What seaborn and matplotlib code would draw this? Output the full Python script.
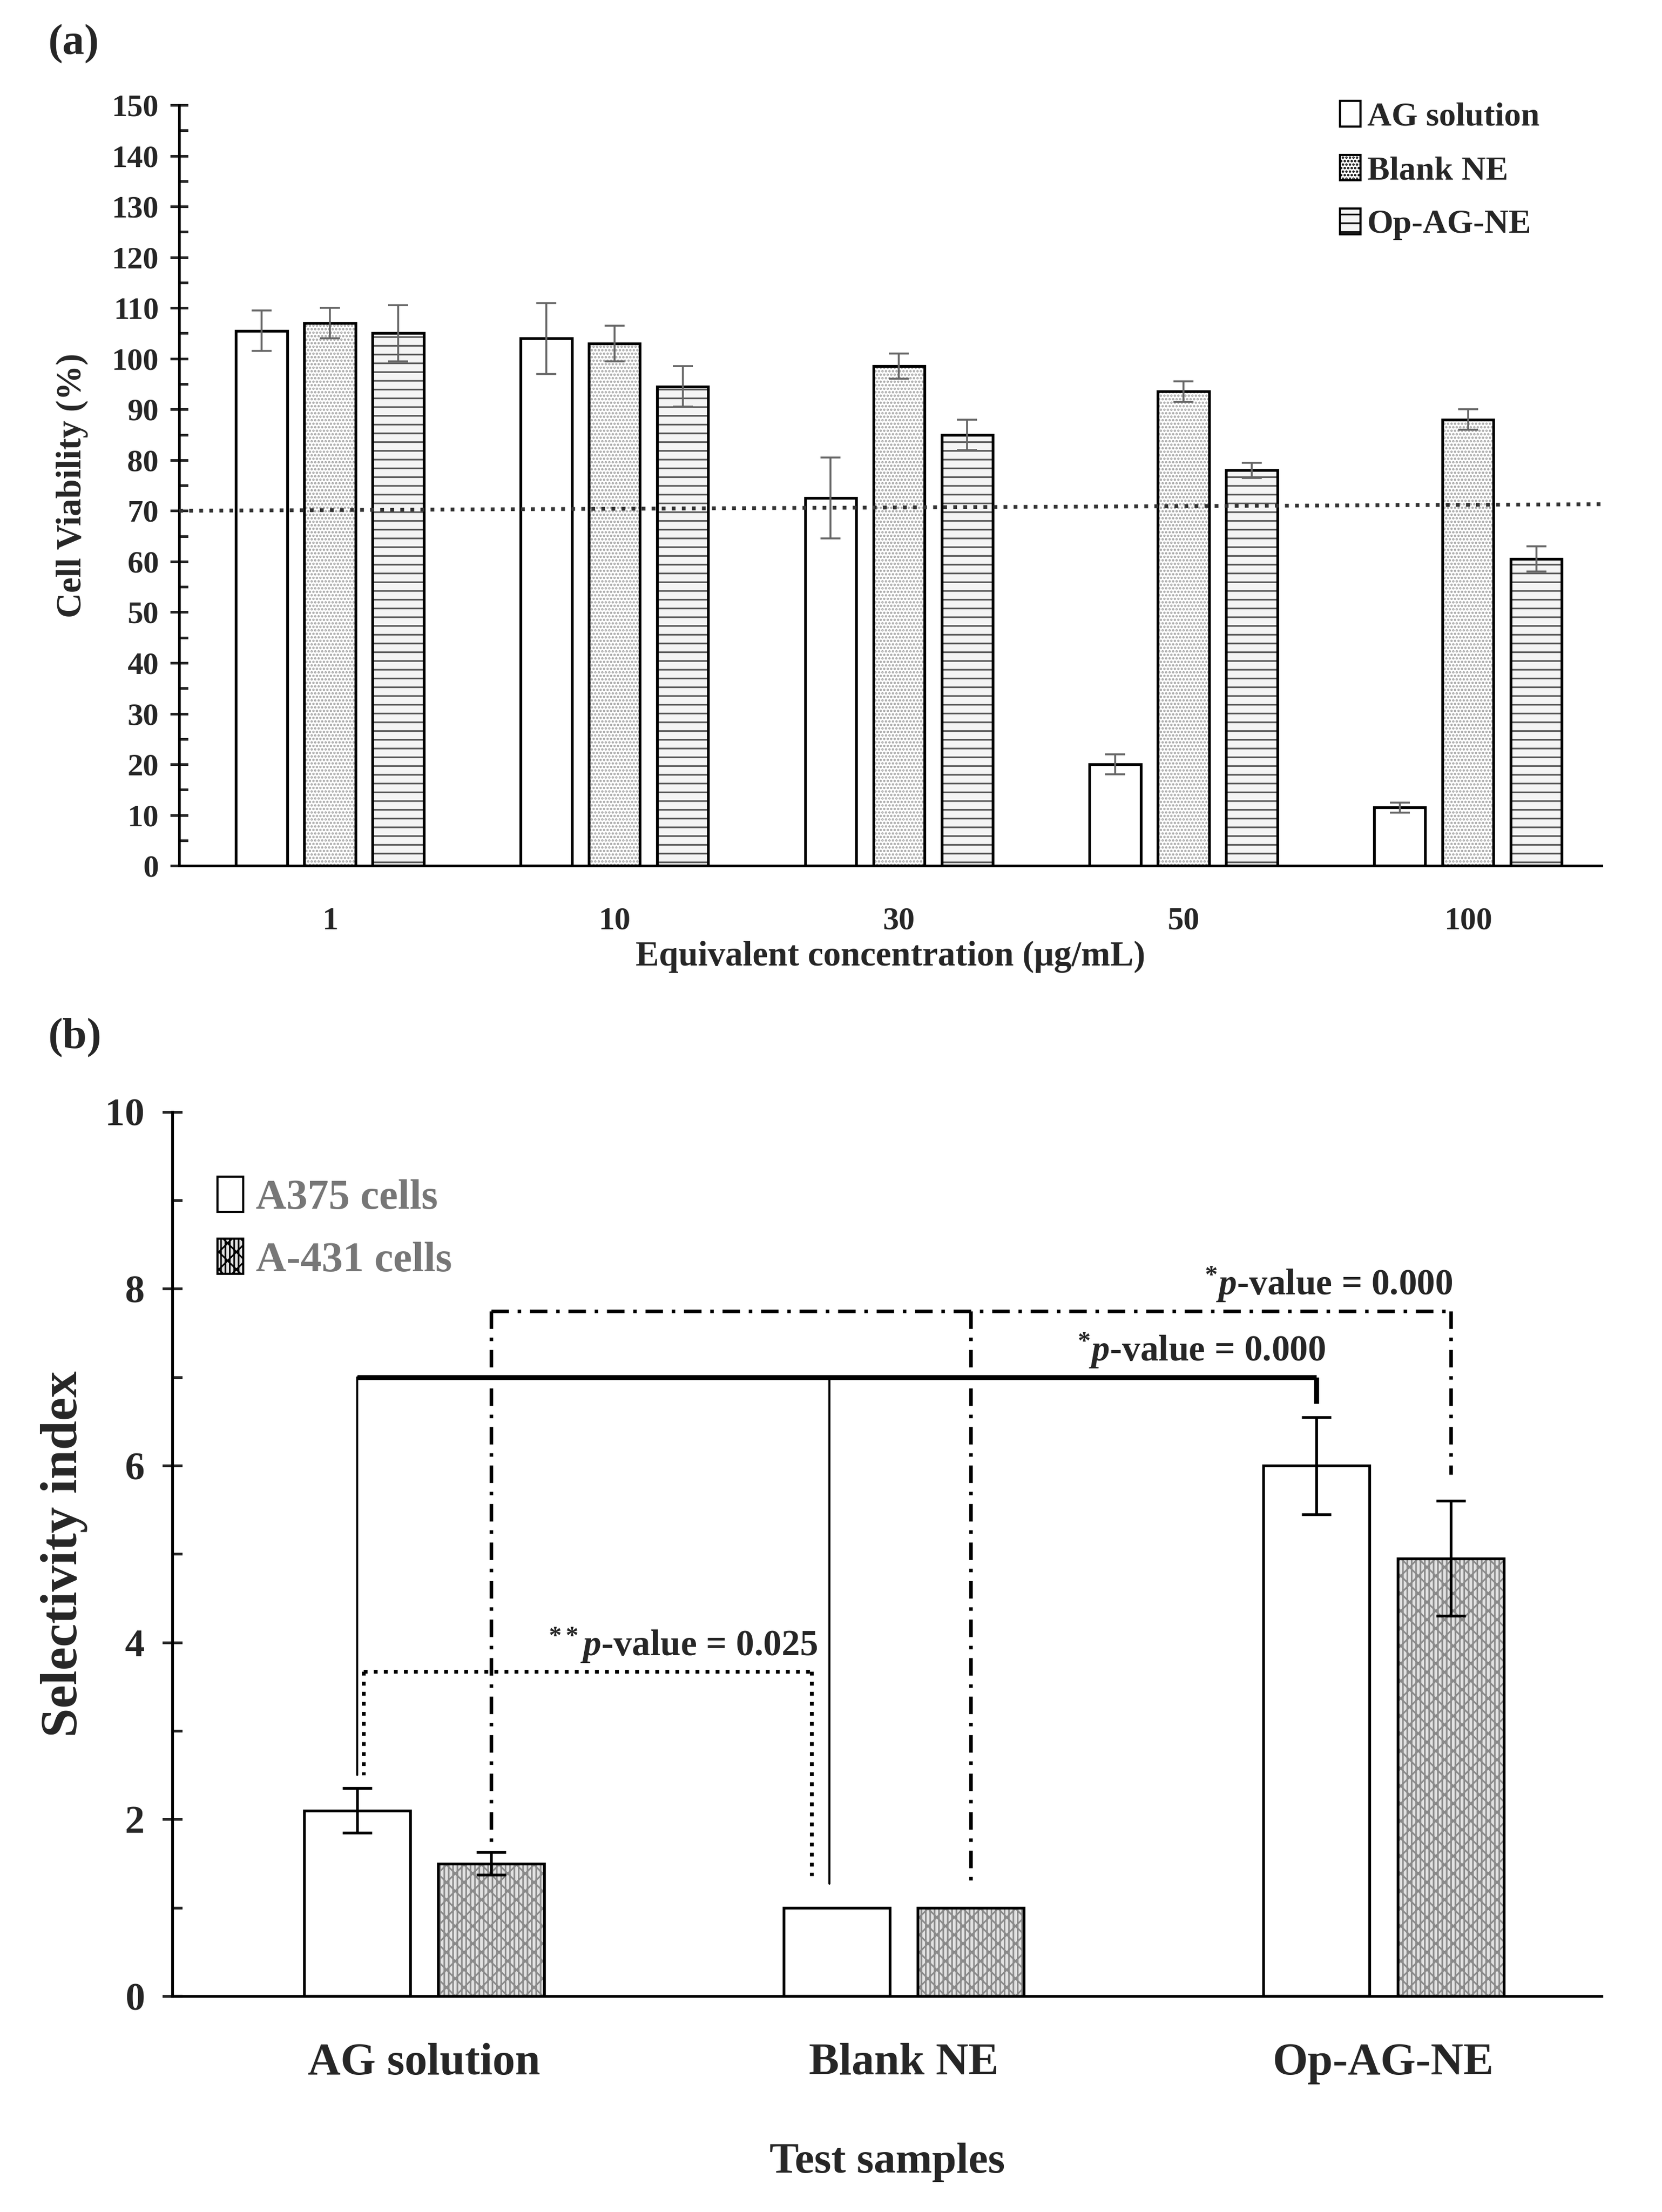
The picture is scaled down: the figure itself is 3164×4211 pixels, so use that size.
import numpy as np
import pandas as pd
import matplotlib
matplotlib.use('Agg')
import matplotlib.pyplot as plt
import seaborn as sns
from matplotlib.patches import Patch, Rectangle
from matplotlib.ticker import MultipleLocator

# ---- data, panel (a)
conc = ['1', '10', '30', '50', '100']
samples_a = ['AG solution', 'Blank NE', 'Op-AG-NE']
ag_sol = [105.5, 104.0, 72.5, 20.0, 11.5]
ag_sol_sd = [4.0, 7.0, 8.0, 2.0, 1.0]
blank_ne = [107.0, 103.0, 98.5, 93.5, 88.0]
blank_ne_sd = [3.0, 3.5, 2.5, 2.0, 2.0]
op_ag_ne = [105.0, 94.5, 85.0, 78.0, 60.5]
op_ag_ne_sd = [5.5, 4.0, 3.0, 1.5, 2.5]
threshold = [70.0, 71.3]

# ---- data, panel (b)
groups_b = ['AG solution', 'Blank NE', 'Op-AG-NE']
cells_b = ['A375 cells', 'A-431 cells']
si_a375 = [2.1, 1.0, 6.0]
si_a375_sd = [0.25, 0.0, 0.55]
si_a431 = [1.5, 1.0, 4.95]
si_a431_sd = [0.13, 0.0, 0.65]
p_labels = [r'$^{*}\mathit{p}$-value = 0.000', r'$^{*}\mathit{p}$-value = 0.000', r'$^{**}\mathit{p}$-value = 0.025']

sns.set_theme(style='white')
plt.rcParams['font.family'] = ['Liberation Serif', 'DejaVu Serif']
plt.rcParams['font.weight'] = 'bold'
plt.rcParams['axes.labelweight'] = 'bold'
plt.rcParams['mathtext.fontset'] = 'custom'
plt.rcParams['mathtext.rm'] = 'Liberation Serif:bold'
plt.rcParams['mathtext.it'] = 'Liberation Serif:italic:bold'
plt.rcParams['hatch.linewidth'] = 1.1

fig = plt.figure(figsize=(15.82, 21.055), dpi=200)
ax1 = fig.add_axes([0.1078, 0.6086, 0.8559, 0.3439])
ax2 = fig.add_axes([0.1037, 0.0976, 0.8600, 0.3997])

def restyle(ax, containers, styles, lw):
    # give hatched faces a grey hatch colour, then outline in black
    for cont, (fc, hc, hatch) in zip(containers, styles):
        for p in cont.patches:
            p.set_facecolor(fc)
            p.set_edgecolor(hc)
            p.set_hatch(hatch)
            p.set_linewidth(0)
            ax.add_patch(Rectangle(p.get_xy(), p.get_width(), p.get_height(),
                                   fill=False, ec='black', lw=lw, zorder=3))

# ================= panel (a)
df_a = pd.DataFrame({
    'conc': conc * 3,
    'sample': np.repeat(samples_a, len(conc)),
    'viab': ag_sol + blank_ne + op_ag_ne,
})
sns.barplot(data=df_a, x='conc', y='viab', hue='sample', hue_order=samples_a,
            order=conc, errorbar=None, width=0.72, gap=0.25, legend=False, ax=ax1)
styles_a = [('white', 'black', ''), ('white', '#a5a5a5', '.....'), ('#f4f4f4', '#555555', '--')]
restyle(ax1, ax1.containers, styles_a, 1.9)
for cont, sd in zip(ax1.containers, [ag_sol_sd, blank_ne_sd, op_ag_ne_sd]):
    xs = [p.get_x() + p.get_width() / 2 for p in cont.patches]
    ys = [p.get_height() for p in cont.patches]
    ax1.errorbar(xs, ys, yerr=sd, fmt='none', ecolor='#666666', elinewidth=1.3,
                 capsize=7, capthick=1.3, zorder=4)

ax1.set_xlim(-0.53, 4.47)
ax1.set_ylim(0, 150)
ax1.plot(ax1.get_xlim(), threshold, ls=':', color='#333333', lw=2.6, zorder=5)
ax1.yaxis.set_major_locator(MultipleLocator(10))
ax1.yaxis.set_minor_locator(MultipleLocator(5))
ax1.tick_params(axis='y', which='major', direction='inout', length=12, width=1.8,
                labelsize=21.5, pad=8, left=True)
ax1.tick_params(axis='y', which='minor', direction='in', length=6, width=1.8, left=True)
ax1.tick_params(axis='x', length=0, labelsize=22, pad=28)
ax1.set_ylabel('Cell Viability (%)', fontsize=24, labelpad=16)
ax1.set_xlabel('Equivalent concentration (\u03bcg/mL)', fontsize=24, labelpad=3)
sns.despine(ax=ax1)
for s in ['left', 'bottom']:
    ax1.spines[s].set_linewidth(1.8)
    ax1.spines[s].set_color('black')

handles_a = [Patch(facecolor=fc, edgecolor='black', hatch=h, lw=1.5) for fc, hc, h in styles_a]
ax1.legend(handles_a, samples_a, loc='upper left', bbox_to_anchor=(0.795, 1.045),
           frameon=False, fontsize=23, handlelength=0.6, handleheight=0.8,
           handletextpad=0.2, labelspacing=0.65)

# ================= panel (b)
df_b = pd.DataFrame({
    'group': groups_b * 2,
    'cell': np.repeat(cells_b, len(groups_b)),
    'si': si_a375 + si_a431,
})
sns.barplot(data=df_b, x='group', y='si', hue='cell', hue_order=cells_b,
            order=groups_b, errorbar=None, width=0.56, gap=0.21, legend=False, ax=ax2)
styles_b = [('white', 'black', ''), ('#e2e2e2', '#8a8a8a', 'xx||||')]
restyle(ax2, ax2.containers, styles_b, 1.9)
centers = {}
for cont, sd, cell in zip(ax2.containers, [si_a375_sd, si_a431_sd], cells_b):
    xs = [p.get_x() + p.get_width() / 2 for p in cont.patches]
    ys = [p.get_height() for p in cont.patches]
    centers[cell] = xs
    keep = [i for i in range(len(sd)) if sd[i] > 0]
    ax2.errorbar([xs[i] for i in keep], [ys[i] for i in keep], yerr=[sd[i] for i in keep],
                 fmt='none', ecolor='black', elinewidth=1.9, capsize=10, capthick=1.9, zorder=4)

xa, xb = centers['A375 cells'], centers['A-431 cells']
# solid bracket: AG solution vs Op-AG-NE (A375)
ax2.plot([xa[0], xa[2]], [7.0, 7.0], color='black', lw=3.4, solid_capstyle='butt')
ax2.plot([xa[0], xa[0]], [7.0, 2.5], color='black', lw=1.4)
ax2.plot([xa[1] - 0.015, xa[1] - 0.015], [7.0, 1.27], color='black', lw=1.4)
ax2.plot([xa[2], xa[2]], [7.0, 6.7], color='black', lw=3.4, solid_capstyle='butt')
ax2.text(xa[2] + 0.02, 7.08, p_labels[1], ha='right', va='bottom', fontsize=25)
# dash-dot bracket: AG solution vs Op-AG-NE (A-431)
dd = (0, (5, 2.5, 1, 2.5))
ax2.plot([xb[0], xb[2]], [7.75, 7.75], color='black', lw=2.4, ls=dd)
ax2.plot([xb[0], xb[0]], [7.75, 1.72], color='black', lw=2.4, ls=dd)
ax2.plot([xb[1], xb[1]], [7.75, 1.3], color='black', lw=2.4, ls=dd)
ax2.plot([xb[2], xb[2]], [7.75, 5.9], color='black', lw=2.4, ls=dd)
ax2.text(xb[2] + 0.005, 7.83, p_labels[0], ha='right', va='bottom', fontsize=25)
# dotted bracket: AG solution vs Blank NE (A375)
ax2.plot([xa[0] + 0.014, xa[1] - 0.052], [3.67, 3.67], color='black', lw=2.6, ls=':')
ax2.plot([xa[0] + 0.014, xa[0] + 0.014], [3.67, 2.5], color='black', lw=2.6, ls=':')
ax2.plot([xa[1] - 0.052, xa[1] - 0.052], [3.67, 1.36], color='black', lw=2.6, ls=':')
ax2.text(xa[1] - 0.04, 3.75, p_labels[2], ha='right', va='bottom', fontsize=25)

ax2.set_xlim(-0.525, 2.455)
ax2.set_ylim(0, 10)
ax2.yaxis.set_major_locator(MultipleLocator(2))
ax2.yaxis.set_minor_locator(MultipleLocator(1))
ax2.tick_params(axis='y', which='major', direction='inout', length=14, width=1.9,
                labelsize=27, pad=12, left=True)
ax2.tick_params(axis='y', which='minor', direction='in', length=7, width=1.9, left=True)
ax2.tick_params(axis='x', length=0, labelsize=31, pad=32)
ax2.set_ylabel('Selectivity index', fontsize=36, labelpad=12)
ax2.set_xlabel('Test samples', fontsize=30, labelpad=40)
sns.despine(ax=ax2)
for s in ['left', 'bottom']:
    ax2.spines[s].set_linewidth(1.9)
    ax2.spines[s].set_color('black')

handles_b = [Patch(facecolor=fc, edgecolor='black', hatch=h, lw=1.5) for fc, hc, h in styles_b]
ax2.legend(handles_b, cells_b, loc='upper left', bbox_to_anchor=(0.005, 0.97),
           frameon=False, fontsize=29, labelcolor='#777777', handlelength=0.6,
           handleheight=0.9, handletextpad=0.3, labelspacing=0.5)

fig.text(0.029, 1 - 84 / 4211, '(a)', fontsize=30, va='center', ha='left')
fig.text(0.029, 1 - 1976 / 4211, '(b)', fontsize=30, va='center', ha='left')

fig.savefig('out.png', dpi=200)
